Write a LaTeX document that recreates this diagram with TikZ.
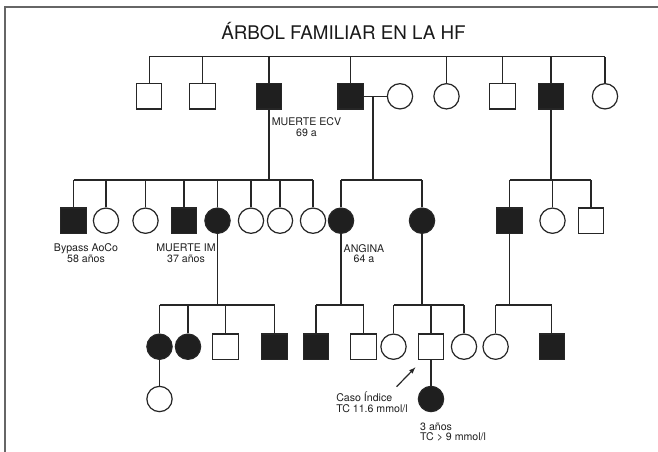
\documentclass[tikz,border=0pt]{standalone}
\usepackage{fontspec}
\setmainfont{TeX Gyre Heros}

\begin{document}
\begin{tikzpicture}[
    x = {(1pt,0pt)},
    y = {(0pt,-1pt)},
    line width = 1.2pt,
    draw = black!85,
    male/.style = {draw=black!85, rectangle, minimum size=25.3pt, inner sep=0pt},
    female/.style = {draw=black!85, circle, minimum size=25.3pt, inner sep=0pt},
    aff/.style = {fill=black!88},
    lbl/.style = {font=\fontsize{10.6}{10.8}\selectfont, text=black!88, inner sep=0pt},
    title/.style = {font=\fontsize{18.8}{22}\selectfont, text=black!90, inner sep=0pt},
    frame/.style = {draw=black!60, line width=1.6pt}]
  \useasboundingbox (0,0) rectangle (658,452);
  \draw [frame] (658,7) -- (5,7) -- (5,452);

  \node [title, anchor=base] (title) at (343.5,40) {ÁRBOL FAMILIAR EN LA HF};

  % generacion I
  \node [male] (g1a) at (149.2,96.3) {};
  \node [male] (g1b) at (202.5,96.3) {};
  \node [male, aff] (g1c) at (269,96.3) {};
  \node [male, aff] (g1d) at (350.6,96.3) {};
  \node [female] (g1e) at (400,96.3) {};
  \node [female] (g1f) at (446.5,96.3) {};
  \node [male] (g1g) at (502.5,96.3) {};
  \node [male, aff] (g1h) at (551,96.3) {};
  \node [female] (g1i) at (605,96.3) {};
  \coordinate (top) at (0,56.7);
  \draw (g1a.north |- top) -- (g1i.north |- top);
  \foreach \n in {g1a,g1b,g1c,g1d,g1f,g1g,g1h,g1i}
    \draw (\n.north) -- (\n.north |- top);
  \draw (g1d) -- (g1e);
  \coordinate (wed) at (373,96.3);
  \node [lbl, anchor=north, align=center] (ecv) at (306.5,116.7) {MUERTE ECV\\69 a};

  % generacion II
  \coordinate (bar2) at (0,180);
  \node [male, aff] (g2a) at (73.5,220.7) {};
  \node [female] (g2b) at (106,220.7) {};
  \node [female] (g2c) at (145.5,220.7) {};
  \node [male, aff] (g2d) at (184,220.7) {};
  \node [female, aff] (g2e) at (217.5,220.7) {};
  \node [female] (g2f) at (251,220.7) {};
  \node [female] (g2g) at (280,220.7) {};
  \node [female] (g2h) at (313,220.7) {};
  \node [female, aff] (g2i) at (341,220.7) {};
  \node [female, aff] (g2j) at (422,220.7) {};
  \node [male, aff] (g2k) at (509.5,220.7) {};
  \node [female] (g2l) at (552.5,220.7) {};
  \node [male] (g2m) at (591,220.7) {};
  \draw (g1c) -- (g1c |- bar2);
  \draw (wed) -- (wed |- bar2);
  \draw (g1h) -- (g1h |- bar2);
  \draw (g2a.north |- bar2) -- (g2h.north |- bar2);
  \draw (g2i.north |- bar2) -- (g2j.north |- bar2);
  \draw (g2k.north |- bar2) -- (g2m.north |- bar2);
  \foreach \n in {g2a,g2b,g2c,g2d,g2e,g2f,g2g,g2h,g2i,g2j,g2k,g2l,g2m}
    \draw (\n.north) -- (\n.north |- bar2);
  \node [lbl, anchor=north, align=center] (bypass) at (86,243.3) {Bypass AoCo\\58 años};
  \node [lbl, anchor=north, align=center] (muerteim) at (186,243.5) {MUERTE IM\\37 años};
  \node [lbl, anchor=north, align=center] (angina) at (364,243.5) {ANGINA\\64 a};

  % generacion III
  \coordinate (bar3) at (0,305);
  \node [female, aff] (g3a) at (159.5,346.7) {};
  \node [female, aff] (g3b) at (188,346.7) {};
  \node [male] (g3c) at (225.5,346.7) {};
  \node [male, aff] (g3d) at (274.5,346.7) {};
  \node [male, aff] (g3e) at (316,346.7) {};
  \node [male] (g3f) at (363.5,346.7) {};
  \node [female] (g3g) at (393.5,346.7) {};
  \node [male] (g3h) at (431,346.7) {};
  \node [female] (g3i) at (464,346.7) {};
  \node [female] (g3j) at (495.6,346.7) {};
  \node [male, aff] (g3k) at (551.8,346.7) {};
  \foreach \p in {g2e,g2i,g2j,g2k}
    \draw (\p) -- (\p |- bar3);
  \draw (g3a.north |- bar3) -- (g3d.north |- bar3);
  \draw (g3e.north |- bar3) -- (g3f.north |- bar3);
  \draw (g3g.north |- bar3) -- (g3i.north |- bar3);
  \draw (g3j.north |- bar3) -- (g3k.north |- bar3);
  \foreach \n in {g3a,g3b,g3c,g3d,g3e,g3f,g3g,g3h,g3i,g3j,g3k}
    \draw (\n.north) -- (\n.north |- bar3);

  % generacion IV
  \node [female] (g4a) at (159.5,399) {};
  \node [female, aff] (g4b) at (431,399) {};
  \draw (g3a) -- (g4a);
  \draw (g3h) -- (g4b);

  % caso indice
  \coordinate (arrowtail) at (396.6,386.7);
  \coordinate (arrowtip) at (415.4,367.3);
  \draw [-latex] (arrowtail) -- (arrowtip);
  \node [lbl, anchor=north west, align=left] (caso) at (335.7,391) {Caso Índice\\TC 11.6 mmol/l};
  \node [lbl, anchor=north west, align=left] (tres) at (419.6,422) {3 años\\TC > 9 mmol/l};
\end{tikzpicture}
\end{document}
